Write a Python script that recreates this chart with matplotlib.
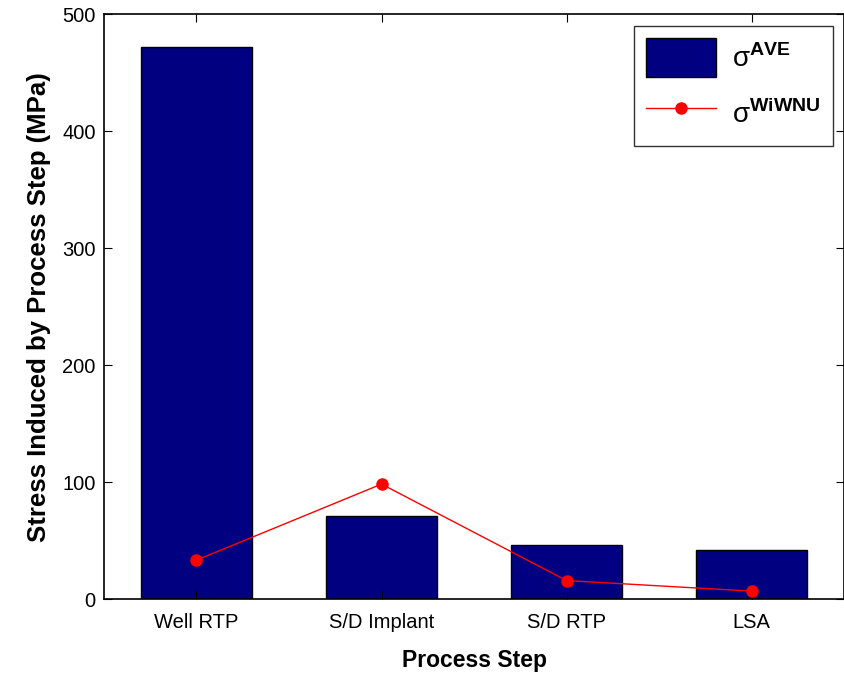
import numpy as np
import matplotlib
matplotlib.use("Agg")
import matplotlib.pyplot as plt

steps = ["Well RTP", "S/D Implant", "S/D RTP", "LSA"]
sigma_ave = [472, 71, 46.5, 42.5]
sigma_wiwnu = [33.5, 98.5, 16, 7]

plt.rcParams["font.family"] = ["Liberation Sans", "DejaVu Sans"]
plt.rcParams["mathtext.fontset"] = "custom"
plt.rcParams["mathtext.rm"] = "Liberation Sans"
plt.rcParams["mathtext.bf"] = "Liberation Sans:bold"

fig = plt.figure(figsize=(8.45, 6.73), dpi=100)
ax = fig.add_axes([0.123, 0.1095, 0.876, 0.869])

x = np.arange(1, len(steps) + 1)
bars = ax.bar(x, sigma_ave, width=0.6, color="#000080", edgecolor="black", linewidth=1.0)
line, = ax.plot(x, sigma_wiwnu, "-", color="red", linewidth=1.0, marker="o", markersize=8,
                markerfacecolor="red", markeredgecolor="red")

ax.set_xlim(0.5, 4.5)
ax.set_ylim(0, 500)
ax.set_xticks(x)
ax.set_xticklabels(steps)
ax.set_yticks([0, 100, 200, 300, 400, 500])
ax.tick_params(direction="in", top=True, right=True, labelsize=14.5, length=6)
ax.tick_params(axis="x", pad=10)
ax.tick_params(axis="y", pad=6)
for s in ax.spines.values():
    s.set_linewidth(1.2)

ax.set_xlabel("Process Step", fontsize=16.5, fontweight="bold", labelpad=12)
ax.set_ylabel("Stress Induced by Process Step (MPa)", fontsize=18.5, fontweight="bold", labelpad=8)

labels = [r"σ$^{\mathbf{AVE}}$", r"σ$^{\mathbf{WiWNU}}$"]
leg = ax.legend([bars, line], labels, loc="upper right", fontsize=20, frameon=True,
                fancybox=False, edgecolor="black", handlelength=2.5, handleheight=1.8,
                borderaxespad=0.4, labelspacing=0.6, borderpad=0.45, handletextpad=0.6)
leg.get_frame().set_linewidth(1.0)

fig.savefig("out.png", dpi=100)
